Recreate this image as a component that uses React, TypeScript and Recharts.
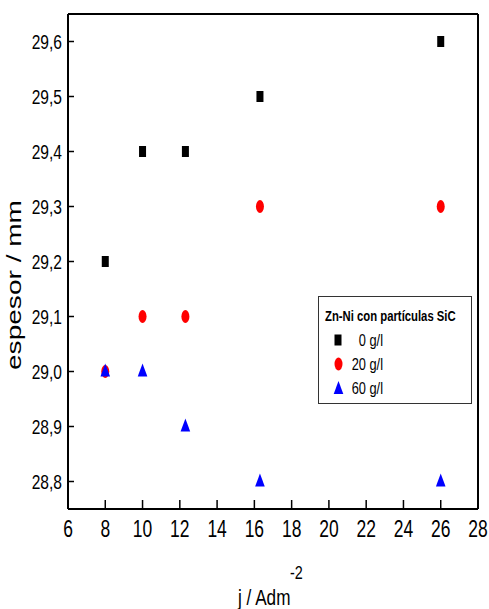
import React from 'react';
import { ScatterChart, Scatter, XAxis, YAxis, Customized } from 'recharts';

const currentDensity = [8, 10, 12.3, 16.3, 26];
const thickness0 = [29.2, 29.4, 29.4, 29.5, 29.6];
const thickness20 = [29.0, 29.1, 29.1, 29.3, 29.3];
const thickness60 = [29.0, 29.0, 28.9, 28.8, 28.8];
const xTicks = [6, 8, 10, 12, 14, 16, 18, 20, 22, 24, 26, 28];
const yTicks = [28.8, 28.9, 29.0, 29.1, 29.2, 29.3, 29.4, 29.5, 29.6];
const seriesLabels = ['0 g/l', '20 g/l', '60 g/l'];
const legendTitle = 'Zn-Ni con partículas SiC';
const xLabel = 'j / Adm';
const xLabelSup = '-2';
const yLabel = 'espesor / mm';

const toPoints = (ys: number[]) => currentDensity.map((x, i) => ({ x, y: ys[i] }));
const data0 = toPoints(thickness0);
const data20 = toPoints(thickness20);
const data60 = toPoints(thickness60);

const FONT = '"Liberation Sans", Arial, sans-serif';

const Square = (p: any) => <rect x={p.cx - 3.5} y={p.cy - 5.5} width={7} height={11} fill="#000" />;
const Dot = (p: any) => <ellipse cx={p.cx} cy={p.cy} rx={4} ry={6.5} fill="#ff0000" />;
const Tri = (p: any) => (
  <polygon points={`${p.cx},${p.cy - 8} ${p.cx - 4.8},${p.cy + 5} ${p.cx + 4.8},${p.cy + 5}`} fill="#0000ff" />
);

const NText = ({ x, y, size, anchor, weight, sx, children }: any) => (
  <text
    transform={`translate(${x},${y}) scale(${sx || 0.8},1)`}
    textAnchor={anchor || 'start'}
    fontFamily={FONT}
    fontSize={size}
    fontWeight={weight || 'normal'}
    fill="#000"
  >
    {children}
  </text>
);

const XTick = (p: any) => (
  <NText x={p.x} y={p.y + 16.3} size={23} sx={0.76} anchor="middle">
    {String(p.payload.value)}
  </NText>
);
const YTick = (p: any) => (
  <NText x={p.x} y={p.y + 7.3} size={20.5} sx={0.76} anchor="end">
    {Number(p.payload.value).toFixed(1).replace('.', ',')}
  </NText>
);

const Overlay = () => {
  const rows = [
    { shape: <Square cx={338} cy={340} />, label: seriesLabels[0], cy: 340 },
    { shape: <Dot cx={338.5} cy={364} />, label: seriesLabels[1], cy: 364 },
    { shape: <Tri cx={338.5} cy={389} />, label: seriesLabels[2], cy: 388 },
  ];
  return (
    <g>
      <rect x={318.5} y={296.5} width={153} height={107} fill="#fff" stroke="#333" strokeWidth={1} />
      <NText x={325} y={321} size={14.5} weight="bold" sx={0.78}>
        {legendTitle}
      </NText>
      {rows.map((r, i) => (
        <g key={i}>
          {r.shape}
          <NText x={383} y={r.cy + 6} size={16} anchor="end">
            {r.label}
          </NText>
        </g>
      ))}
      <text
        transform="translate(21,285) rotate(-90)"
        textAnchor="middle"
        fontFamily={FONT}
        fontSize={20}
        textLength={170}
        lengthAdjust="spacingAndGlyphs"
        fill="#000"
      >
        {yLabel}
      </text>
      <NText x={238} y={605} size={22} sx={0.78}>
        {xLabel}
      </NText>
      <NText x={290} y={579} size={18} sx={0.8}>
        {xLabelSup}
      </NText>
    </g>
  );
};

export default function App() {
  return (
    <div style={{ position: 'absolute', left: 0, top: 0, background: '#fff' }}>
      <ScatterChart width={489} height={609} margin={{ top: 13, right: 10, bottom: 70, left: 28 }}>
        <XAxis
          xAxisId="b"
          type="number"
          dataKey="x"
          domain={[6, 28]}
          ticks={xTicks}
          allowDataOverflow
          orientation="bottom"
          height={30}
          tickSize={-9}
          tickMargin={21}
          axisLine={{ stroke: '#000', strokeWidth: 2 }}
          tickLine={{ stroke: '#000', strokeWidth: 1.5 }}
          tick={XTick}
        />
        <XAxis
          xAxisId="t"
          type="number"
          dataKey="x"
          domain={[6, 28]}
          ticks={xTicks}
          allowDataOverflow
          orientation="top"
          height={1}
          tickSize={-9}
          tick={false}
          axisLine={{ stroke: '#000', strokeWidth: 2 }}
          tickLine={{ stroke: '#000', strokeWidth: 1.5 }}
        />
        <YAxis
          yAxisId="l"
          type="number"
          dataKey="y"
          domain={[28.75, 29.65]}
          ticks={yTicks}
          allowDataOverflow
          orientation="left"
          width={40}
          tickSize={-6}
          tickMargin={12}
          axisLine={{ stroke: '#000', strokeWidth: 2 }}
          tickLine={{ stroke: '#000', strokeWidth: 1.5 }}
          tick={YTick}
        />
        <YAxis
          yAxisId="r"
          type="number"
          dataKey="y"
          domain={[28.75, 29.65]}
          ticks={yTicks}
          allowDataOverflow
          orientation="right"
          width={1}
          tickSize={-6}
          tick={false}
          axisLine={{ stroke: '#000', strokeWidth: 2 }}
          tickLine={{ stroke: '#000', strokeWidth: 1.5 }}
        />
        <Scatter xAxisId="b" yAxisId="l" data={data0} shape={Square} isAnimationActive={false} />
        <Scatter xAxisId="b" yAxisId="l" data={data20} shape={Dot} isAnimationActive={false} />
        <Scatter xAxisId="b" yAxisId="l" data={data60} shape={Tri} isAnimationActive={false} />
        <Scatter xAxisId="t" yAxisId="r" data={data0} shape={() => null} isAnimationActive={false} />
        <Customized component={Overlay} />
      </ScatterChart>
    </div>
  );
}
